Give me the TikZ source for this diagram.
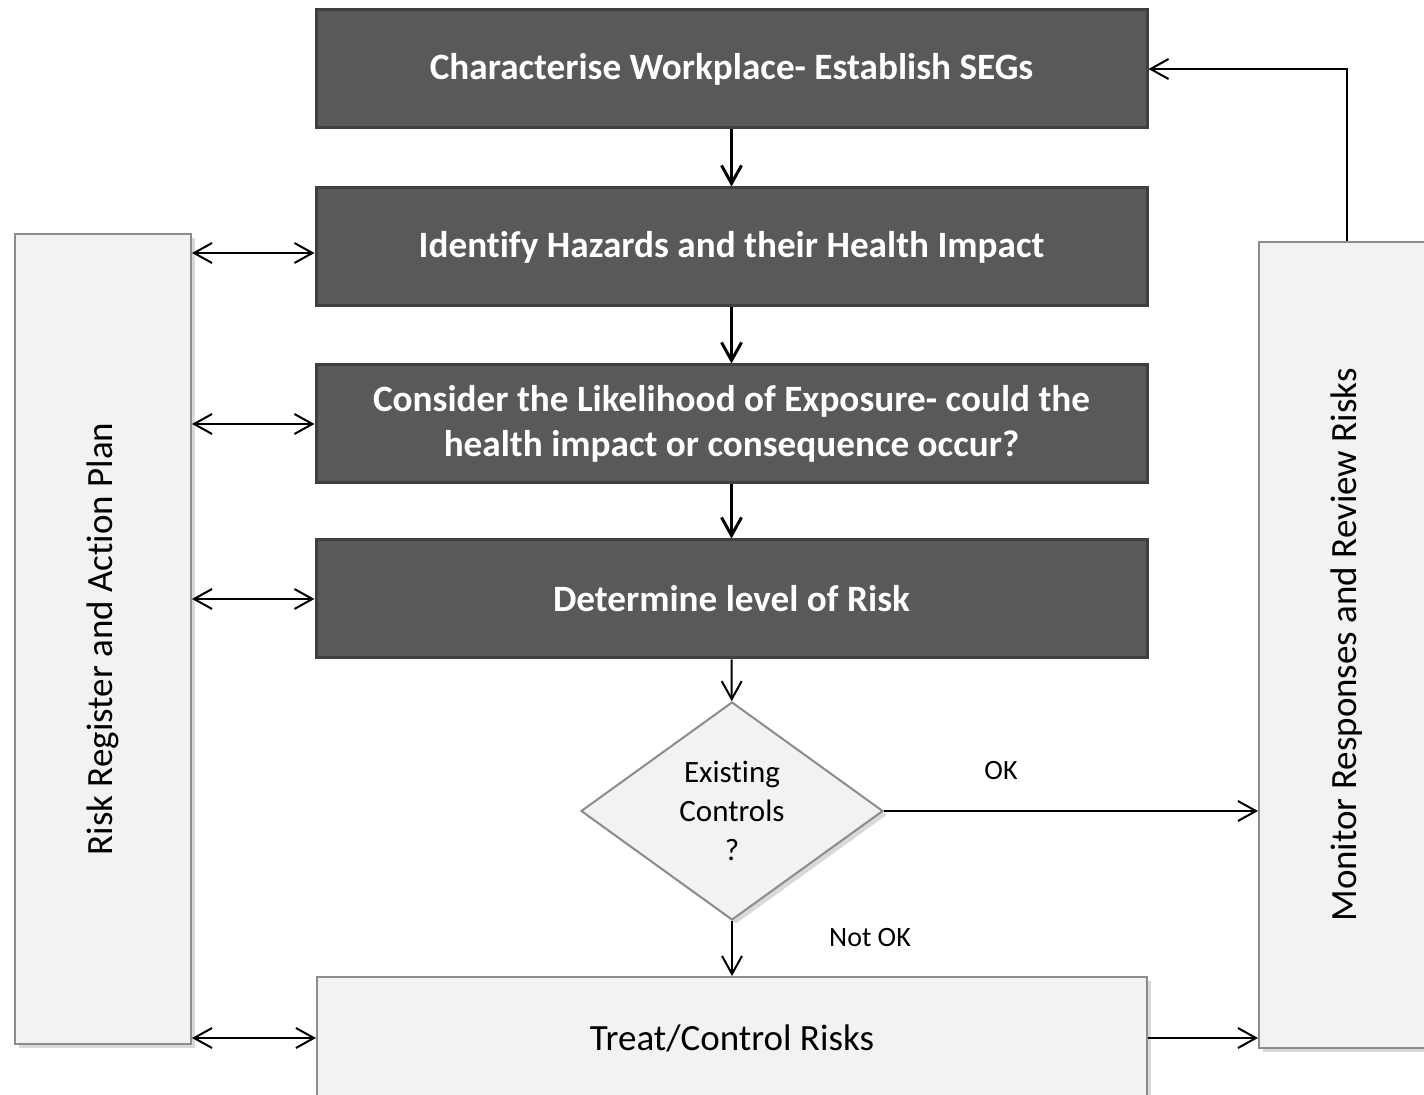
\documentclass[tikz,border=0pt]{standalone}
\usepackage{fontspec}
\setmainfont{Carlito}[RawFeature={-liga;-clig;-calt}]
\usetikzlibrary{shapes.geometric,arrows.meta,shadows}
\definecolor{darkgrey}{HTML}{595959}
\definecolor{edgegrey}{HTML}{3F3F3F}
\definecolor{lightgrey}{HTML}{F2F2F2}
\definecolor{framegrey}{HTML}{8C8C8C}

\begin{document}
\begin{tikzpicture}[x=0.5pt,y=-0.5pt,
  stepbox/.style={draw=edgegrey,line width=1.5pt,fill=darkgrey,text=white,
    font=\fontsize{18.6}{22.5}\selectfont\bfseries,align=center,
    minimum width=415.5pt,minimum height=59pt,inner sep=0pt},
  lightbox/.style={draw=framegrey,line width=1pt,fill=lightgrey,inner sep=0pt,
    font=\fontsize{18.5}{22}\selectfont,
    drop shadow={opacity=0.3,shadow xshift=2pt,shadow yshift=-2pt}},
  flow/.style={-{Straight Barb[length=9pt,width=10pt]},line width=1.5pt},
  link/.style={-{Straight Barb[length=9pt,width=10pt]},line width=1pt},
  dbl/.style={{Straight Barb[length=9pt,width=10pt]}-{Straight Barb[length=9pt,width=10pt]},line width=1pt},
  tag/.style={font=\fontsize{14}{17}\selectfont}]
\useasboundingbox (0,0) rectangle (1424,1095);

% main steps
\node[stepbox] (char) at (731.5,69) {Characterise Workplace- Establish SEGs};
\node[stepbox] (ident) at (731.5,247) {Identify Hazards and their Health Impact};
\node[stepbox] (lik) at (731.5,424) {Consider the Likelihood of Exposure- could the\\health impact or consequence occur?};
\node[stepbox] (level) at (731.5,599) {Determine level of Risk};
\node[lightbox,diamond,minimum width=151pt,minimum height=109pt,align=center,
  font=\fontsize{15.5}{19.5}\selectfont] (ctrl) at (732,811) {Existing\\Controls\\?};
\node[lightbox,minimum width=415pt,minimum height=61pt] (treat) at (732,1038) {Treat/Control Risks};

% side boxes
\node[lightbox,rotate=90,minimum width=405pt,minimum height=88pt] (reg) at (103,639) {Risk Register and Action Plan};
\node[lightbox,rotate=90,minimum width=403pt,minimum height=88pt] (mon) at (1347,645) {Monitor Responses and Review Risks};

% arrows down
\draw[flow] (char) -- (ident);
\draw[flow] (ident) -- (lik);
\draw[flow] (lik) -- (level);
\draw[link] (level) -- (ctrl);
\draw[link] (ctrl) -- (treat);
\draw[link] (ctrl.east) -- (mon.north |- ctrl.east);
\draw[link] (treat.east) -- (mon.north |- treat.east);
\draw[link] (mon.east) |- (char.east);

% register links
\coordinate (hz) at ([yshift=-3pt]ident.west);
\draw[dbl] (reg.south |- hz) -- (hz);
\draw[dbl] (reg.south |- lik.west) -- (lik.west);
\draw[dbl] (reg.south |- level.west) -- (level.west);
\draw[dbl] (reg.south |- treat.west) -- (treat.west);

\node[tag] (ok) at (1001,771) {OK};
\node[tag] (notok) at (870,938) {Not OK};
\end{tikzpicture}
\end{document}
